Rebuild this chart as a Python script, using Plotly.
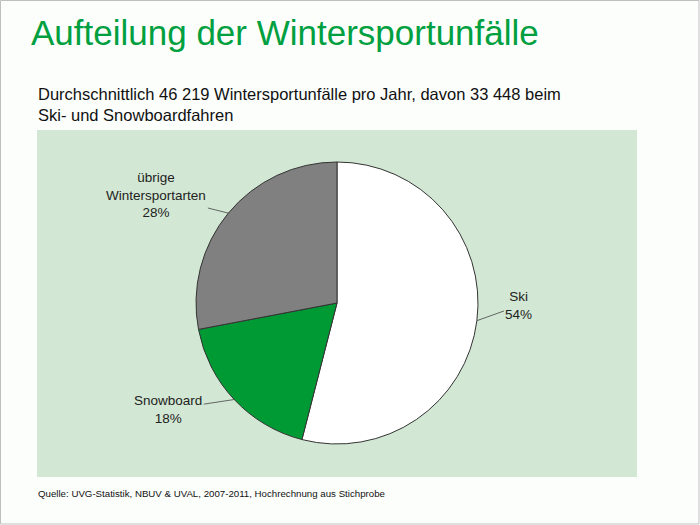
#! /usr/bin/env python3

import math
import plotly.graph_objects as go

W, H = 700, 525

# data
labels = ['Ski', 'Snowboard', 'übrige<br>Wintersportarten']
shares = [54, 18, 28]
colors = ['#ffffff', '#009a35', '#808080']

title = 'Aufteilung der Wintersportunfälle'
subtitle = ('Durchschnittlich 46 219 Wintersportunfälle pro Jahr, davon 33 448 beim<br>'
            'Ski- und Snowboardfahren')
source = 'Quelle: UVG-Statistik, NBUV & UVAL, 2007-2011, Hochrechnung aus Stichprobe'

# pie placement in pixels
cx, cy, r = 337, 303, 141

def px(x):
  return x / W

def py(y):
  return 1 - y / H

fig = go.Figure()
fig.add_trace(go.Pie(labels=labels, values=shares, sort=False,
                     direction='clockwise', rotation=0,
                     marker=dict(colors=colors, line=dict(color='#333333', width=1)),
                     textinfo='none', hoverinfo='label+percent',
                     showlegend=False,
                     domain=dict(x=[px(cx - r), px(cx + r)],
                                 y=[py(cy + r), py(cy - r)])))

# outside labels with leader lines, placed at each slice's middle angle
offsets = {'Ski': (42, -15), 'Snowboard': (-66, 10),
           'übrige<br>Wintersportarten': (-72, -18)}
total = sum(shares)
cum = 0
for lab, val in zip(labels, shares):
  mid = (cum + val / 2) / total * 2 * math.pi
  cum += val
  ex = cx + r * math.sin(mid)
  ey = cy - r * math.cos(mid)
  ax, ay = offsets[lab]
  fig.add_annotation(x=px(ex), y=py(ey), xref='paper', yref='paper',
                     text=f'{lab}<br>{round(val / total * 100)}%',
                     showarrow=True, arrowhead=0, arrowwidth=0.8,
                     arrowcolor='#444444', ax=ax, ay=ay,
                     font=dict(size=13.5, color='#222222'), align='center')

fig.add_annotation(x=px(29), y=py(33), xref='paper', yref='paper',
                   xanchor='left', yanchor='middle', showarrow=False,
                   text=title, font=dict(size=35, color='#00a040'))
fig.add_annotation(x=px(36), y=py(104), xref='paper', yref='paper',
                   xanchor='left', yanchor='middle', showarrow=False, align='left',
                   text=subtitle, font=dict(size=16.5, color='#111111'))
fig.add_annotation(x=px(36), y=py(493), xref='paper', yref='paper',
                   xanchor='left', yanchor='middle', showarrow=False,
                   text=source, font=dict(size=9.7, color='#111111'))

# green panel and outer frame
fig.add_shape(type='rect', xref='paper', yref='paper', layer='below',
              x0=px(37), x1=px(637), y0=py(477), y1=py(130),
              fillcolor='#d3e8d4', line=dict(width=0))
fig.add_shape(type='rect', xref='paper', yref='paper', layer='below',
              x0=px(0.5), x1=px(699), y0=py(524), y1=py(0.5),
              fillcolor='rgba(0,0,0,0)', line=dict(color='#bfbfbf', width=1))

fig.update_layout(width=W, height=H, margin=dict(l=0, r=0, t=0, b=0),
                  paper_bgcolor='#fcfefc',
                  font=dict(family='Liberation Sans, Arial, sans-serif'))

# the browser's default 8px body margin would shift the figure
fig.write_html('out.html', config={'displayModeBar': False},
               post_script="document.body.style.margin='0';")
